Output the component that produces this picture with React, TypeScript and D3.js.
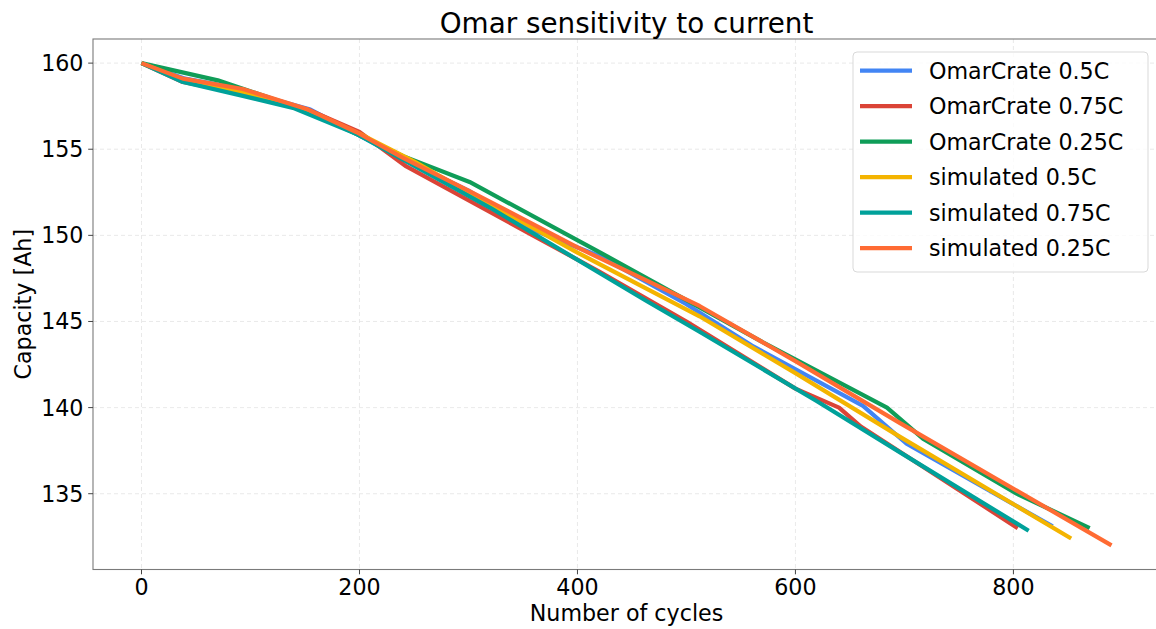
import React from "react";
import * as d3 from "d3";

const seriesNames = [
  "OmarCrate 0.5C",
  "OmarCrate 0.75C",
  "OmarCrate 0.25C",
  "simulated 0.5C",
  "simulated 0.75C",
  "simulated 0.25C",
];
const seriesColors = ["#4285F4", "#DB4437", "#0F9D58", "#F4B400", "#00A19A", "#FF6B33"];

const omar05: [number, number][] = [
  [0, 160], [40, 159.1], [75, 158.7], [155, 157.3], [245, 154.3], [300, 152.6], [360, 150.3],
  [420, 148.8], [500, 146.0], [560, 143.6], [662, 140.1], [702, 137.9], [836, 133.1],
];
const omar075: [number, number][] = [
  [0, 160], [38, 158.9], [70, 158.5], [153, 157.3], [200, 156.0], [243, 154.0], [359, 150.0],
  [420, 147.9], [500, 145.0], [600, 141.1], [640, 140.0], [660, 138.9], [804, 133.0],
];
const omar025: [number, number][] = [
  [0, 160], [70, 159.0], [150, 157.3], [240, 154.6], [301, 153.1], [421, 149.0], [567, 143.9],
  [684, 140.0], [717, 138.2], [803, 135.0], [870, 133.0],
];
const sim05: [number, number][] = [
  [0, 160], [38, 159.0], [93, 158.3], [150, 157.3], [200, 155.9], [250, 154.3], [300, 152.5],
  [400, 149.0], [512, 145.3], [600, 142.0], [696, 138.3], [853, 132.4],
];
const sim075: [number, number][] = [
  [0, 160], [38, 158.9], [93, 158.1], [139, 157.4], [197, 155.9], [240, 154.4], [320, 151.6],
  [463, 146.2], [512, 144.4], [619, 140.4], [696, 137.4], [814, 132.85],
];
const sim025: [number, number][] = [
  [0, 160], [38, 159.1], [93, 158.5], [153, 157.3], [197, 156.0], [240, 154.5], [300, 152.6],
  [400, 149.3], [512, 145.9], [600, 142.7], [696, 139.1], [890, 132.0],
];
const allSeries = [omar05, omar075, omar025, sim05, sim075, sim025];

const xTicks = [0, 200, 400, 600, 800];
const yTicks = [135, 140, 145, 150, 155, 160];

const W = 1156;
const H = 629;
const left = 93;
const right = 1160;
const top = 39;
const bottom = 569.5;

export default function App() {
  const x = d3.scaleLinear().domain([-44.5, 934.5]).range([left, right]);
  const y = d3.scaleLinear().domain([130.6, 161.4]).range([bottom, top]);
  const line = d3
    .line<[number, number]>()
    .x((d) => x(d[0]))
    .y((d) => y(d[1]));
  const font = "DejaVu Sans, sans-serif";
  const legX = 853;
  const legY = 52;
  const rowY = (i: number) => 70.7 + i * 35.5;

  return (
    <svg
      width={W}
      height={H}
      style={{ position: "absolute", left: 0, top: 0, background: "#fff" }}
      fontFamily={font}
    >
      <rect x={0} y={0} width={W} height={H} fill="#fff" />
      {/* grid */}
      {xTicks.map((t) => (
        <line key={"gx" + t} x1={x(t)} x2={x(t)} y1={top} y2={bottom} stroke="#e3e3e3" strokeWidth={0.8} strokeDasharray="4,3" />
      ))}
      {yTicks.map((t) => (
        <line key={"gy" + t} x1={left} x2={right} y1={y(t)} y2={y(t)} stroke="#e3e3e3" strokeWidth={0.8} strokeDasharray="4,3" />
      ))}
      {/* lines */}
      {allSeries.map((s, i) => (
        <path key={i} d={line(s) || ""} fill="none" stroke={seriesColors[i]} strokeWidth={4.2} strokeLinejoin="round" />
      ))}
      {/* spines */}
      <rect x={left} y={top} width={right - left} height={bottom - top} fill="none" stroke="#7a7a7a" strokeWidth={1.1} />
      {/* ticks */}
      {xTicks.map((t) => (
        <g key={"tx" + t}>
          <line x1={x(t)} x2={x(t)} y1={bottom} y2={bottom + 4.8} stroke="#444" strokeWidth={1} />
          <text x={x(t)} y={bottom + 25.5} textAnchor="middle" fontSize={22.2} fill="#000">
            {t}
          </text>
        </g>
      ))}
      {yTicks.map((t) => (
        <g key={"ty" + t}>
          <line x1={left - 4.8} x2={left} y1={y(t)} y2={y(t)} stroke="#444" strokeWidth={1} />
          <text x={left - 9.5} y={y(t)} dy="0.36em" textAnchor="end" fontSize={22.2} fill="#000">
            {t}
          </text>
        </g>
      ))}
      {/* labels */}
      <text x={(left + right) / 2} y={621} textAnchor="middle" fontSize={22.2} fill="#000">
        Number of cycles
      </text>
      <text transform={`translate(31,${(top + bottom) / 2}) rotate(-90)`} textAnchor="middle" fontSize={22.2} fill="#000">
        Capacity [Ah]
      </text>
      <text x={(left + right) / 2} y={33} textAnchor="middle" fontSize={27.8} fill="#000">
        Omar sensitivity to current
      </text>
      {/* legend */}
      <rect x={legX} y={legY} width={295} height={220} rx={4} fill="#fff" fillOpacity={0.8} stroke="#d9d9d9" strokeWidth={1} />
      {seriesNames.map((n, i) => (
        <g key={n}>
          <line x1={860} x2={912} y1={rowY(i)} y2={rowY(i)} stroke={seriesColors[i]} strokeWidth={4.2} />
          <text x={929} y={rowY(i)} dy="0.36em" fontSize={22.2} fill="#000">
            {n}
          </text>
        </g>
      ))}
    </svg>
  );
}
